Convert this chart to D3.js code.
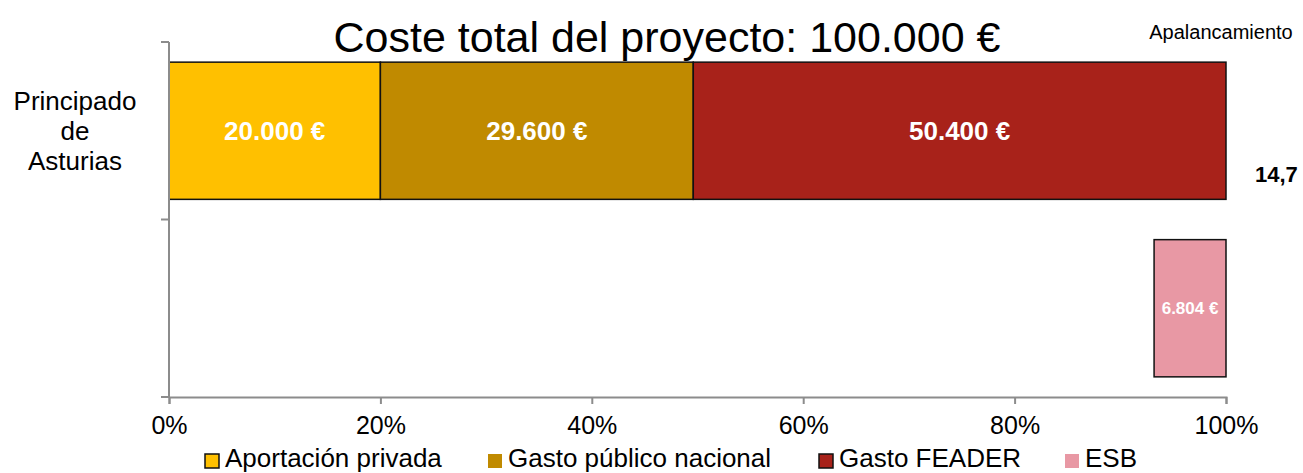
<!DOCTYPE html>
<html>
<head>
<meta charset="utf-8">
<script src="https://cdn.jsdelivr.net/npm/d3@7"></script>
<style>
  html, body { margin: 0; padding: 0; background: #fff; }
  svg { display: block; font-family: "Liberation Sans", Arial, sans-serif; }
</style>
</head>
<body>
<svg id="chart" width="1303" height="473"></svg>
<script>
// ---- data ----
const categories = ["Principado de Asturias", "ESB"];
const categoryLabelLines = [["Principado", "de", "Asturias"], []];
const seriesNames = ["Aportación privada", "Gasto público nacional", "Gasto FEADER", "ESB"];
const aportacionPrivada = [20000, 0];
const gastoPublicoNacional = [29600, 0];
const gastoFEADER = [50400, 0];
const offsetHidden = [0, 93196];   // invisible spacer so ESB sits at the right
const esb = [0, 6804];
const totalCost = 100000;
const xTickValues = [0, 0.2, 0.4, 0.6, 0.8, 1.0];
const titleText = "Coste total del proyecto: 100.000 €";
const apalancamientoLabel = "Apalancamiento";
const apalancamientoValue = ["14,7", ""];
const colors = {
  "Aportación privada": "#FFC000",
  "Gasto público nacional": "#C08A00",
  "Gasto FEADER": "#A8221A",
  "offset": "none",
  "ESB": "#E898A4"
};

(function () {
// ---- build rows ----
const keys = ["Aportación privada", "Gasto público nacional", "Gasto FEADER", "offset", "ESB"];
const rows = categories.map((c, i) => ({
  cat: c,
  "Aportación privada": aportacionPrivada[i] / totalCost,
  "Gasto público nacional": gastoPublicoNacional[i] / totalCost,
  "Gasto FEADER": gastoFEADER[i] / totalCost,
  "offset": offsetHidden[i] / totalCost,
  "ESB": esb[i] / totalCost,
  raw: {
    "Aportación privada": aportacionPrivada[i],
    "Gasto público nacional": gastoPublicoNacional[i],
    "Gasto FEADER": gastoFEADER[i],
    "offset": offsetHidden[i],
    "ESB": esb[i]
  }
}));
const stacked = d3.stack().keys(keys)(rows);

const svg = d3.select("#chart");
const mLeft = 169, mRight = 1226, mTop = 42, mBottom = 397;
const pad = 0.227;

const x = d3.scaleLinear().domain([0, 1]).range([mLeft, mRight]);
const y = d3.scaleBand().domain(categories).range([mTop, mBottom])
  .paddingInner(pad).paddingOuter(pad / 2);

const fmt = v => d3.format(",")(v).replace(/,/g, ".") + " €";
const axisColor = "#8c8c8c";

// bars
const g = svg.append("g");
stacked.forEach(layer => {
  if (layer.key === "offset") return;
  layer.forEach((d, i) => {
    const w = x(d[1]) - x(d[0]);
    if (w <= 0) return;
    g.append("rect")
      .attr("x", x(d[0])).attr("y", y(rows[i].cat))
      .attr("width", w).attr("height", y.bandwidth())
      .attr("fill", colors[layer.key])
      .attr("stroke", "#111").attr("stroke-width", 1.5);
    const small = layer.key === "ESB";
    g.append("text")
      .attr("x", (x(d[0]) + x(d[1])) / 2)
      .attr("y", y(rows[i].cat) + y.bandwidth() / 2)
      .attr("dy", "0.36em")
      .attr("text-anchor", "middle")
      .attr("fill", "#fff")
      .attr("font-weight", "bold")
      .attr("font-size", small ? 17 : 26)
      .text(fmt(rows[i].raw[layer.key]));
  });
});

// y axis line and boundary ticks
svg.append("line").attr("x1", mLeft).attr("x2", mLeft).attr("y1", mTop).attr("y2", mBottom)
  .attr("stroke", axisColor).attr("stroke-width", 2);
const step = y.step();
const boundaries = categories.map(c => y(c) - step * pad / 2).concat([mBottom]);
boundaries.forEach(b => {
  svg.append("line").attr("x1", mLeft - 8).attr("x2", mLeft).attr("y1", b).attr("y2", b)
    .attr("stroke", axisColor).attr("stroke-width", 2);
});

// x axis
const xAxis = svg.append("g").attr("transform", `translate(0,${mBottom})`)
  .call(d3.axisBottom(x).tickValues(xTickValues).tickFormat(d3.format(".0%")).tickSize(7).tickPadding(12));
xAxis.select(".domain").attr("stroke", axisColor).attr("stroke-width", 2);
xAxis.selectAll(".tick line").attr("stroke", axisColor).attr("stroke-width", 2);
xAxis.selectAll(".tick text").attr("font-size", 25).attr("fill", "#000")
  .attr("font-family", "'Liberation Sans', Arial, sans-serif");

// category labels
categories.forEach((c, i) => {
  const lines = categoryLabelLines[i];
  const cy = y(c) + y.bandwidth() / 2;
  const lh = 30;
  lines.forEach((ln, k) => {
    svg.append("text")
      .attr("x", 75).attr("y", cy + (k - (lines.length - 1) / 2) * lh)
      .attr("dy", "0.36em").attr("text-anchor", "middle")
      .attr("font-size", 26).attr("fill", "#000").text(ln);
  });
});

// title
svg.append("text").attr("x", 667).attr("y", 52).attr("text-anchor", "middle")
  .attr("font-size", 43).attr("fill", "#000").text(titleText);

// apalancamiento
svg.append("text").attr("x", 1221).attr("y", 39).attr("text-anchor", "middle")
  .attr("font-size", 20).attr("fill", "#000").text(apalancamientoLabel);
categories.forEach((c, i) => {
  if (!apalancamientoValue[i]) return;
  svg.append("text").attr("x", 1255).attr("y", y(c) + y.bandwidth() / 2 + 51)
    .attr("font-size", 22).attr("font-weight", "bold").attr("fill", "#000")
    .text(apalancamientoValue[i]);
});

// legend
const legendX = [205, 488, 819, 1065];
const legendBorder = [true, false, true, false];
seriesNames.forEach((s, i) => {
  svg.append("rect").attr("x", legendX[i]).attr("y", 454).attr("width", 14).attr("height", 14)
    .attr("fill", colors[s])
    .attr("stroke", legendBorder[i] ? "#111" : "none").attr("stroke-width", 1.5);
  svg.append("text").attr("x", legendX[i] + 20).attr("y", 467)
    .attr("font-size", 26).attr("fill", "#000").text(s);
});
})();
</script>
</body>
</html>
